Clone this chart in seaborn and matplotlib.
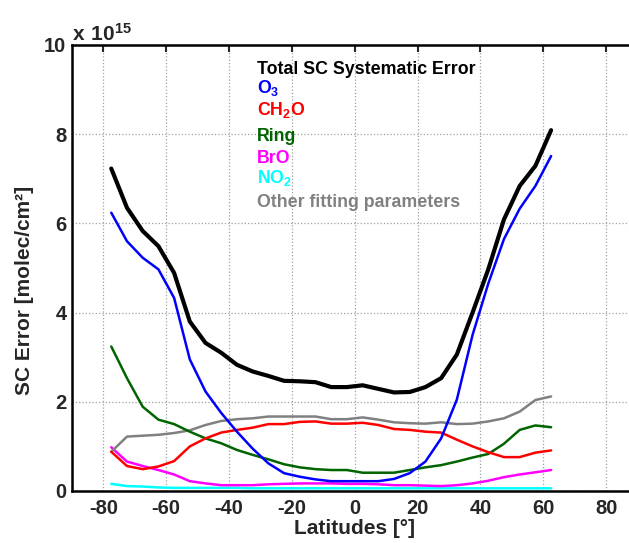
import numpy as np
import pandas as pd
import matplotlib
matplotlib.use("Agg")
import matplotlib.pyplot as plt
import seaborn as sns

# Latitude bin centres (degrees)
latitudes = [-77.5, -72.5, -67.5, -62.5, -57.5, -52.5, -47.5, -42.5, -37.5, -32.5,
             -27.5, -22.5, -17.5, -12.5, -7.5, -2.5, 2.5, 7.5, 12.5, 17.5,
             22.5, 27.5, 32.5, 37.5, 42.5, 47.5, 52.5, 57.5, 62.5]

# Slant column errors in units of 1e15 molec/cm2
total_err = [7.23, 6.35, 5.83, 5.49, 4.89, 3.80, 3.32, 3.10, 2.83, 2.68,
             2.58, 2.47, 2.46, 2.44, 2.33, 2.33, 2.37, 2.29, 2.21, 2.22,
             2.33, 2.53, 3.06, 4.00, 4.97, 6.09, 6.84, 7.29, 8.09]
o3_err = [6.24, 5.60, 5.23, 4.97, 4.33, 2.95, 2.23, 1.75, 1.33, 0.95,
          0.62, 0.40, 0.32, 0.26, 0.22, 0.22, 0.22, 0.22, 0.27, 0.40,
          0.66, 1.18, 2.05, 3.50, 4.65, 5.65, 6.33, 6.84, 7.51]
ch2o_err = [0.88, 0.56, 0.49, 0.55, 0.67, 1.00, 1.18, 1.31, 1.37, 1.42,
            1.50, 1.50, 1.55, 1.56, 1.51, 1.51, 1.53, 1.48, 1.39, 1.37,
            1.33, 1.31, 1.15, 1.00, 0.87, 0.76, 0.76, 0.86, 0.91]
ring_err = [3.24, 2.53, 1.89, 1.60, 1.50, 1.33, 1.18, 1.07, 0.92, 0.81,
            0.71, 0.60, 0.53, 0.49, 0.47, 0.47, 0.41, 0.41, 0.41, 0.47,
            0.53, 0.58, 0.66, 0.75, 0.83, 1.06, 1.37, 1.47, 1.43]
bro_err = [0.98, 0.66, 0.56, 0.47, 0.37, 0.22, 0.17, 0.13, 0.13, 0.13,
           0.15, 0.16, 0.17, 0.17, 0.17, 0.16, 0.16, 0.15, 0.13, 0.13,
           0.12, 0.11, 0.13, 0.17, 0.23, 0.31, 0.37, 0.42, 0.47]
no2_err = [0.16, 0.11, 0.10, 0.08, 0.07, 0.07, 0.07, 0.07, 0.07, 0.06,
           0.06, 0.06, 0.06, 0.06, 0.06, 0.06, 0.06, 0.06, 0.06, 0.06,
           0.06, 0.06, 0.06, 0.06, 0.06, 0.06, 0.06, 0.06, 0.06]
other_err = [0.88, 1.22, 1.24, 1.26, 1.30, 1.36, 1.48, 1.57, 1.61, 1.63,
             1.67, 1.67, 1.67, 1.67, 1.61, 1.61, 1.65, 1.60, 1.54, 1.52,
             1.51, 1.54, 1.50, 1.51, 1.56, 1.63, 1.78, 2.04, 2.12]

series_names = ["Total SC Systematic Error", "O3", "CH2O", "Ring", "BrO", "NO2",
                "Other fitting parameters"]
series_labels = ["Total SC Systematic Error", r"$\mathbf{O_3}$", r"$\mathbf{CH_2O}$",
                 "Ring", "BrO", r"$\mathbf{NO_2}$", "Other fitting parameters"]
series_colors = ["black", "#0000ff", "#ff0000", "#006400", "#ff00ff", "#00ffff", "#808080"]
series_widths = [3.0, 1.8, 1.8, 1.8, 1.8, 1.8, 1.8]
series_values = [total_err, o3_err, ch2o_err, ring_err, bro_err, no2_err, other_err]

df = pd.DataFrame({
    "lat": np.tile(latitudes, len(series_names)),
    "err": np.concatenate(series_values),
    "series": np.repeat(series_names, len(latitudes)),
})

sns.set_style("white")
plt.rcParams["font.family"] = ["Liberation Sans", "DejaVu Sans"]
plt.rcParams["font.weight"] = "bold"
plt.rcParams["axes.unicode_minus"] = False
plt.rcParams["mathtext.fontset"] = "custom"
plt.rcParams["mathtext.bf"] = "Liberation Sans:bold"
plt.rcParams["mathtext.rm"] = "Liberation Sans:bold"

W, H = 629, 543
fig = plt.figure(figsize=(W / 100, H / 100), dpi=100)
ax = fig.add_axes([72 / W, 52 / H, (637.5 - 72) / W, 446 / H])

# draw NO2 first so the thicker curves sit on top, total last
draw_order = [5, 4, 6, 3, 2, 1, 0]
for i in draw_order:
    sub = df[df["series"] == series_names[i]]
    sns.lineplot(data=sub, x="lat", y="err", ax=ax, color=series_colors[i],
                 linewidth=series_widths[i], legend=False, sort=False)

ax.set_xlim(-90, 90)
ax.set_ylim(0, 10)
ax.set_xticks(np.arange(-80, 81, 20))
ax.set_yticks(np.arange(0, 11, 2))
ax.grid(True, color="#a0a0a0", linestyle=":", linewidth=0.9)
ax.tick_params(direction="in", length=5, width=1.5, top=True, right=True,
               labelsize=14.5)
ax.tick_params(axis="x", pad=5.5)
ax.tick_params(axis="y", pad=4)
for lab in ax.get_xticklabels() + ax.get_yticklabels():
    lab.set_fontweight("bold")
for sp in ax.spines.values():
    sp.set_linewidth(1.8)
    sp.set_color("black")

ax.set_xlabel("Latitudes [°]", fontsize=15, fontweight="bold")
ax.set_ylabel("SC Error [molec/cm²]", fontsize=15, fontweight="bold")
ax.xaxis.set_label_coords(0.5, (491 - 519) / 446)
ax.yaxis.set_label_coords((34 - 72) / 565.5, (491 - 290) / 446)

# scale factor note above the y axis
fig.text(71.5 / W, 1 - 40.7 / H, r"$\mathbf{x\ 10^{15}}$", fontsize=15,
         ha="left", va="baseline")

# coloured legend entries
legend_baselines = [74, 92.5, 115, 140.7, 163.3, 182.5, 206.7]
for lab, col, yb in zip(series_labels, series_colors, legend_baselines):
    fig.text(257 / W, 1 - yb / H, lab, color=col, fontsize=12.8,
             fontweight="bold", ha="left", va="baseline")

fig.savefig("out.png", dpi=100)
